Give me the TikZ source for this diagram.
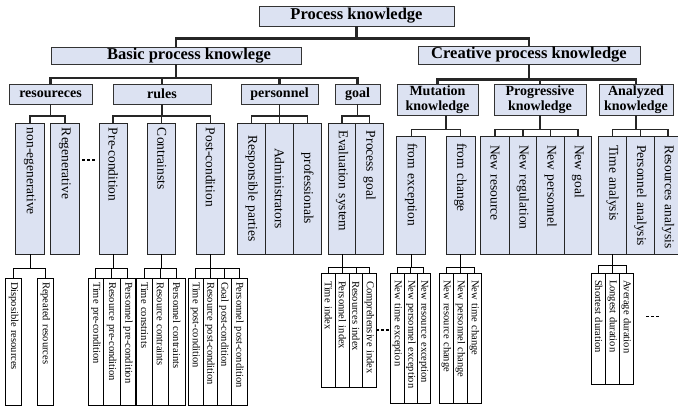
\documentclass[tikz,border=0pt]{standalone}
\usepackage{fontspec}
\setmainfont{Liberation Serif}
\definecolor{boxfill}{RGB}{220,226,242}

% horizontal box from its corners: name, x1, x2, y1, y2, style, text
\newcommand\hbx[7]{%
  \pgfmathsetmacro\tkw{#3-#2}\pgfmathsetmacro\tkh{#5-#4}%
  \node[#6, minimum width=\tkw pt, minimum height=\tkh pt] (#1) at ({(#2+#3)/2},{(#4+#5)/2}) {#7};}

% upright column with text read top to bottom: name, x1, x2, y1, y2, top offset, style, text
\newcommand\vbx[8]{%
  \pgfmathsetmacro\tkw{#3-#2}\pgfmathsetmacro\tkh{#5-#4}\pgfmathsetmacro\tkt{#5-#4-2*#6}%
  \node[rotate=-90, align=left, inner xsep=#6pt, inner ysep=0pt, text width=\tkt pt,
        minimum width=\tkh pt, minimum height=\tkw pt, #7] (#1) at ({(#2+#3)/2},{(#4+#5)/2}) {\mbox{#8}};}

\tikzset{
  lvA/.style={draw=black!80, fill=boxfill, line width=0.9pt, inner sep=1pt,
              font=\bfseries\fontsize{16.5}{18}\selectfont},
  lvB/.style={draw=black!80, fill=boxfill, line width=0.9pt, inner sep=1pt, align=center,
              font=\bfseries\fontsize{14}{14.5}\selectfont},
  lvC/.style={draw=black!85, fill=boxfill, line width=0.9pt, font=\fontsize{13.5}{15}\selectfont},
  lvD/.style={draw=black, fill=white, line width=0.8pt, font=\fontsize{10.5}{12}\selectfont},
  mid/.style={align=center},
  wireA/.style={line width=2.2pt, black!85},
  wireB/.style={line width=1.4pt, black!85},
  wireC/.style={line width=0.9pt, black},
  ellip/.style={line width=1.2pt, dash pattern=on 3pt off 2pt},
}

\begin{document}
\begin{tikzpicture}[x=1pt, y=-1pt]
\fill[white] (0,0) rectangle (678,412);
\useasboundingbox (0,0) rectangle (678,412);

% ---- top levels
\hbx{root}{259}{454}{6}{26}{lvA}{Process knowledge}
\hbx{basic}{51}{301}{47}{64}{lvA}{\hspace*{26pt}Basic process knowlege}
\hbx{creat}{418}{640}{46}{64}{lvA}{Creative process knowledge}

\hbx{res}{9}{92}{84}{104}{lvB}{resoureces}
\hbx{rules}{113}{211}{84}{104}{lvB}{rules}
\hbx{pers}{241}{318}{84}{104}{lvB}{personnel}
\hbx{goal}{335}{380}{84}{104}{lvB}{goal}
\hbx{mut}{397}{478}{84}{115}{lvB}{Mutation\\knowledge}
\hbx{prog}{494}{586}{84}{115}{lvB}{Progressive\\knowledge}
\hbx{ana}{599}{673}{84}{115}{lvB}{Analyzed\\knowledge}

% ---- third level
\vbx{nonreg}{15.7}{44.3}{123}{254}{5}{lvC}{non-egenerative}
\vbx{regen}{50.7}{79}{123}{254}{5}{lvC}{Regenerative}
\vbx{precond}{99.3}{127}{123}{254}{5}{lvC}{Pre-condition}
\vbx{contr}{147.7}{175.7}{123}{254}{5}{lvC}{Contrainsts}
\vbx{postcond}{196.7}{224.3}{123}{254}{5}{lvC}{Post-condition}
\vbx{resp}{237.7}{265.7}{123}{254}{5}{lvC,mid}{Responsible parties}
\vbx{admin}{265.7}{293.3}{123}{254}{5}{lvC,mid}{Administrators}
\vbx{prof}{293.3}{321.7}{123}{254}{5}{lvC,mid}{professionals}
\vbx{evals}{328.3}{355.7}{123}{254}{8}{lvC}{Evaluation system}
\vbx{pgoal}{355.7}{383.3}{123}{254}{8}{lvC}{Process goal}
\vbx{fexc}{396.7}{425.7}{136}{254}{7}{lvC}{from exception}
\vbx{fchg}{446}{475}{136}{254}{7}{lvC}{from change}
\vbx{nres}{480.7}{509}{136}{254}{9}{lvC}{New resource}
\vbx{nreg}{509}{536.7}{136}{254}{9}{lvC}{New regulation}
\vbx{npers}{536.7}{564.3}{136}{254}{9}{lvC}{New personnel}
\vbx{ngoal}{564.3}{591.7}{136}{254}{9}{lvC}{New goal}
\vbx{tana}{598.3}{626.7}{136}{254}{9}{lvC}{Time analysis}
\vbx{pana}{626.7}{654}{136}{254}{9}{lvC}{Personnel analysis}
\vbx{rana}{654}{682}{136}{254}{9}{lvC}{Resources analysis}

% ---- fourth level
\vbx{disp}{5.7}{21.7}{278}{405}{4}{lvD}{Disposible resources}
\vbx{rep}{37.7}{53.3}{278}{405}{4}{lvD}{Repeated resources}
\vbx{tpre}{88.3}{103.3}{278}{405}{4}{lvD}{Time pre-condition}
\vbx{rpre}{103.3}{120}{278}{405}{4}{lvD}{Resource pre-condition}
\vbx{ppre}{120}{135.7}{278}{405}{4}{lvD}{Personnel pre-condition}
\vbx{tcon}{136.7}{152.3}{278}{405}{4}{lvD}{Time constrints}
\vbx{rcon}{152.3}{168.3}{278}{405}{4}{lvD}{Resource contraints}
\vbx{pcon}{168.3}{185}{278}{405}{4}{lvD}{Personnel contraints}
\vbx{tpost}{188}{203}{278}{405}{4}{lvD}{Time post-condition}
\vbx{rpost}{203}{217}{278}{405}{4}{lvD}{Resource post-condition}
\vbx{gpost}{217}{231}{278}{405}{4}{lvD}{Goal post-condition}
\vbx{ppost}{231}{247}{278}{405}{4}{lvD}{Personnel post-condition}

\vbx{tidx}{321}{335.7}{273}{387}{8}{lvD}{Time index}
\vbx{pidx}{335.7}{349.3}{273}{387}{8}{lvD}{Personnel index}
\vbx{ridx}{349.3}{362.7}{273}{387}{8}{lvD}{Resources index}
\vbx{cidx}{362.7}{376}{273}{387}{8}{lvD}{Comprehensive index}
\vbx{nte}{390.7}{404}{273}{403}{7}{lvD}{New time exception}
\vbx{npe}{404}{417.7}{273}{403}{7}{lvD}{New personnel exception}
\vbx{nre}{417.7}{430}{273}{403}{7}{lvD}{New resource exception}
\vbx{nrc}{439.5}{453.3}{273}{403}{7}{lvD}{New resource change}
\vbx{npc}{453.3}{467.3}{273}{403}{7}{lvD}{New personnel change}
\vbx{ntc}{467.3}{481.7}{273}{403}{7}{lvD}{New time change}
\vbx{sdur}{591.7}{605.7}{273}{384}{7}{lvD}{Shortest duration}
\vbx{ldur}{605.7}{619.3}{273}{384}{7}{lvD}{Longest duration}
\vbx{adur}{619.3}{633.3}{273}{384}{7}{lvD}{Average duration}

% ---- connectors
\foreach \c in {basic,creat} \draw[wireA] (root.south) -- ++(0,12) -| (\c.north);
\foreach \c in {res,rules,pers,goal} \draw[wireA] (basic.south) -- ++(0,13.5) -| (\c.north);
\foreach \c in {mut,prog,ana} \draw[wireA] (creat.south) -- ++(0,15) -| (\c.north);

\foreach \c in {nonreg,regen} \draw[wireB] (res.south) -- ++(0,11.7) -| (\c.west);
\foreach \c in {precond,contr,postcond} \draw[wireB] (rules.south) -- ++(0,11.7) -| (\c.west);
\foreach \c in {resp,admin,prof} \draw[wireB] (pers.south) -- ++(0,11.7) -| (\c.west);
\foreach \c in {evals,pgoal} \draw[wireB] (goal.south) -- ++(0,11.7) -| (\c.west);
\foreach \c in {fexc,fchg} \draw[wireB] ([xshift=8.5pt]mut.south) -- ++(0,14.3) -| (\c.west);
\foreach \c in {nres,nreg,npers,ngoal} \draw[wireB] (prog.south) -- ++(0,14.3) -| (\c.west);
\foreach \c in {tana,pana,rana} \draw[wireB] (ana.south) -- ++(0,14.3) -| (\c.west);

\foreach \c in {disp,rep} \draw[wireC] (nonreg.east) -- ++(0,14) -| (\c.west);
\foreach \c in {tpre,rpre,ppre} \draw[wireC] (precond.east) -- ++(0,14) -| (\c.west);
\foreach \c in {tcon,rcon,pcon} \draw[wireC] (contr.east) -- ++(0,14) -| (\c.west);
\foreach \c in {tpost,rpost,gpost,ppost} \draw[wireC] (postcond.east) -- ++(0,14) -| (\c.west);
\foreach \c in {tidx,pidx,ridx,cidx} \draw[wireC] (evals.east) -- ++(0,12.7) -| (\c.west);
\foreach \c in {nte,npe,nre} \draw[wireC] (fexc.east) -- ++(0,12.7) -| (\c.west);
\foreach \c in {nrc,npc,ntc} \draw[wireC] (fchg.east) -- ++(0,12.7) -| (\c.west);
\foreach \c in {sdur,ldur,adur} \draw[wireC] (tana.east) -- ++(0,11) -| (\c.west);

% ---- ellipsis marks
\draw[ellip] (82,160) -- (95,160);
\draw[ellip] (cidx.north) -- (cidx.north -| nte.south);
\draw[ellip] (646,316.7) -- (659,316.7);
\end{tikzpicture}
\end{document}
